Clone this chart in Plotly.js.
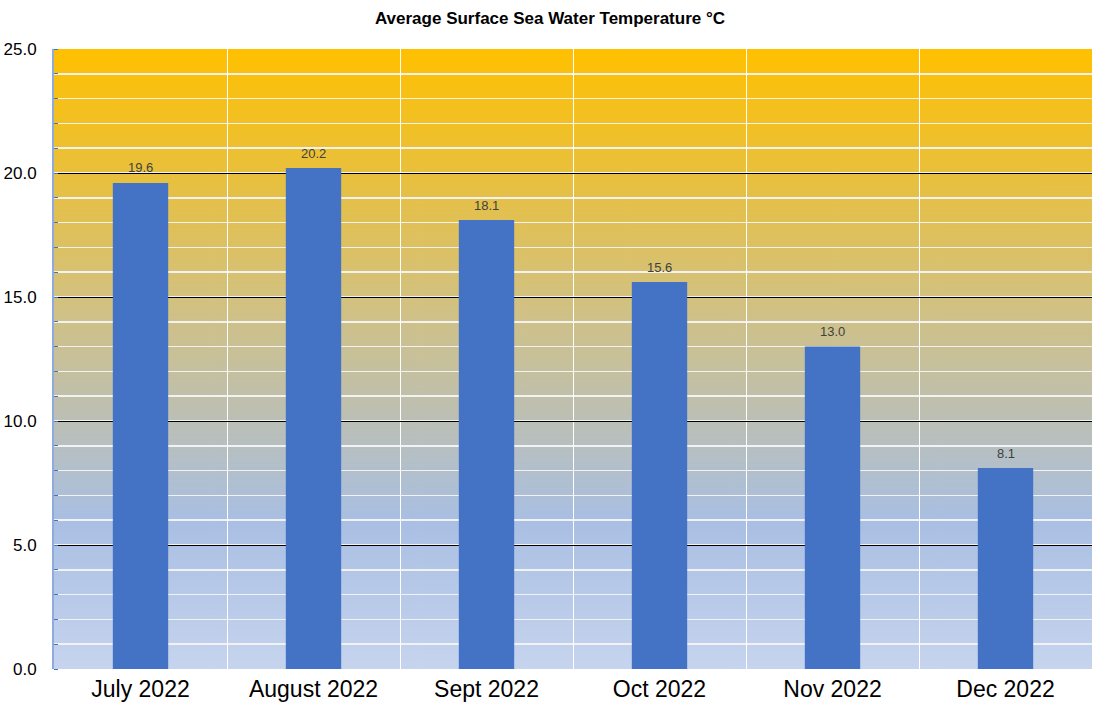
<!DOCTYPE html>
<html>
<head>
<meta charset="utf-8">
<script src="https://cdn.plot.ly/plotly-3.0.1.min.js"></script>
<style>html,body{margin:0;padding:0;background:#fff;}#chart{width:1100px;height:704px;}</style>
</head>
<body>
<div id="chart"></div>
<script>
const months = ["July 2022", "August 2022", "Sept 2022", "Oct 2022", "Nov 2022", "Dec 2022"];
const temps = [19.6, 20.2, 18.1, 15.6, 13.0, 8.1];
const yTicks = [0, 5, 10, 15, 20, 25];

// gradient background
const cv = document.createElement('canvas');
cv.width = 10; cv.height = 620;
const ctx = cv.getContext('2d');
const g = ctx.createLinearGradient(0, 0, 0, 620);
g.addColorStop(0, '#FFC000');
g.addColorStop(0.2, '#E9C03C');
g.addColorStop(0.4, '#D3C17E');
g.addColorStop(0.6, '#BBBFB5');
g.addColorStop(0.76, '#A9BFE3');
g.addColorStop(1, '#C6D4EE');
ctx.fillStyle = g;
ctx.fillRect(0, 0, 10, 620);
const bg = cv.toDataURL('image/png');

const font = 'Liberation Sans, Arial, sans-serif';

const trace = {
  type: 'bar',
  x: months,
  y: temps,
  width: 0.32,
  marker: {color: '#4472C4'},
  hoverinfo: 'x+y'
};

const labels = months.map((m, i) => ({
  x: m, y: temps[i], xref: 'x', yref: 'y',
  text: temps[i].toFixed(1), showarrow: false,
  yanchor: 'middle', yshift: 15,
  font: {family: font, size: 13, color: '#404040'}
}));

const layout = {
  width: 1100, height: 704,
  margin: {l: 54, r: 8, t: 49, b: 35},
  paper_bgcolor: '#ffffff',
  plot_bgcolor: 'rgba(0,0,0,0)',
  title: {text: '<b>Average Surface Sea Water Temperature °C</b>', x: 0.5, xanchor: 'center', y: 0.974, yanchor: 'middle',
          font: {family: font, size: 17, color: '#000'}},
  showlegend: false,
  annotations: labels,
  images: [{source: bg, xref: 'paper', yref: 'paper', x: 0, y: 1, sizex: 1, sizey: 1,
            sizing: 'stretch', layer: 'below', xanchor: 'left', yanchor: 'top'}],
  xaxis: {
    type: 'category',
    tickson: 'boundaries',
    showgrid: true, gridcolor: '#FFFFFF', gridwidth: 1,
    ticks: '', showline: false,
    ticklabelstandoff: 4,
    tickfont: {family: font, size: 23, color: '#000'},
    range: [-0.5, 5.5]
  },
  yaxis: {
    range: [0, 25],
    tickvals: yTicks,
    ticktext: yTicks.map(v => v.toFixed(1)),
    showgrid: true, gridcolor: '#000000', gridwidth: 1,
    zeroline: false,
    showline: true, linecolor: '#8FAADC', linewidth: 2,
    ticks: '',
    ticklabelstandoff: 12,
    tickfont: {family: font, size: 17, color: '#000'},
    minor: {dtick: 1, showgrid: true, gridcolor: '#F2F2F2', gridwidth: 1.5,
            ticks: 'inside', ticklen: 4, tickcolor: '#4472C4'}
  }
};

Plotly.newPlot('chart', [trace], layout, {displayModeBar: false, staticPlot: true});
</script>
</body>
</html>
